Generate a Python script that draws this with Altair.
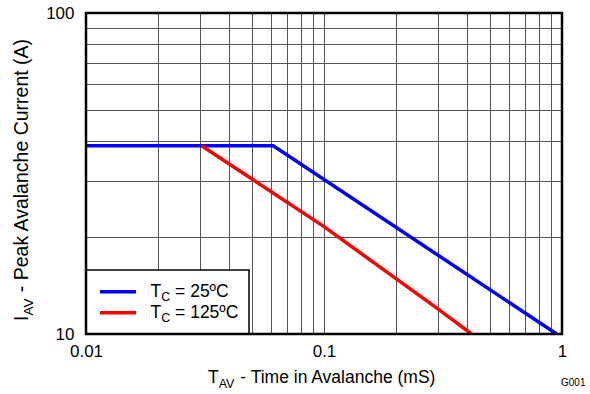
import altair as alt
import pandas as pd

# ---- data ----
blue_t = [0.01, 0.0612, 0.95]          # T_AV (ms), Tc = 25ºC
blue_i = [38.6, 38.6, 10.0]            # I_AV (A)
red_t = [0.0306, 0.1, 0.2, 0.3, 0.417]  # T_AV (ms), Tc = 125ºC
red_i = [38.6, 21.6, 14.9, 12.0, 10.0]  # I_AV (A)
series_names = ["25ºC", "125ºC"]
series_colors = ["#0000FF", "#FF0000"]
x_grid = [0.01, 0.02, 0.03, 0.04, 0.05, 0.06, 0.07, 0.08, 0.09,
          0.1, 0.2, 0.3, 0.4, 0.5, 0.6, 0.7, 0.8, 0.9, 1]
y_grid = [10, 20, 30, 40, 50, 60, 70, 80, 90, 100]
x_labels = ["0.01", "0.1", "1"]
y_labels = ["10", "100"]

FONT = "Liberation Sans"
SP = 0.278  # width of a space, in em
W, H = 476, 321

df_blue = pd.DataFrame({"t": blue_t, "i": blue_i})
df_red = pd.DataFrame({"t": red_t, "i": red_i})
one = pd.DataFrame({"k": [0]})

xscale = alt.Scale(type="log", domain=[0.01, 1], nice=False)
yscale = alt.Scale(type="log", domain=[10, 100], nice=False)

xl = "[" + ",".join("'" + s + "'" for s in x_labels) + "]"
yl = "[" + ",".join("'" + s + "'" for s in y_labels) + "]"

xaxis = alt.Axis(values=x_grid, grid=True, gridColor="#555555", gridWidth=1,
                 ticks=False, domain=False, title=None, labelFont=FONT,
                 labelFontSize=17, labelColor="black", labelPadding=9,
                 labelFlush=False, labelOverlap=False,
                 labelExpr="indexof(" + xl + ", format(datum.value, '~g')) >= 0 ? format(datum.value, '~g') : ''")
yaxis = alt.Axis(values=y_grid, grid=True, gridColor="#555555", gridWidth=1,
                 ticks=False, domain=False, title=None, labelFont=FONT,
                 labelFontSize=17, labelColor="black", labelPadding=12,
                 labelFlush=False, labelOverlap=False,
                 labelExpr="indexof(" + yl + ", format(datum.value, '~g')) >= 0 ? format(datum.value, '~g') : ''")

blue = alt.Chart(df_blue).mark_line(color=series_colors[0], strokeWidth=3.5, clip=True).encode(
    x=alt.X("t:Q", scale=xscale, axis=xaxis),
    y=alt.Y("i:Q", scale=yscale, axis=yaxis),
)
red = alt.Chart(df_red).mark_line(color=series_colors[1], strokeWidth=3.5, clip=True).encode(
    x=alt.X("t:Q", scale=xscale, axis=xaxis),
    y=alt.Y("i:Q", scale=yscale, axis=yaxis),
)

layers = [blue, red]


def txt(s, x, y, size, angle=None):
    kw = dict(font=FONT, fontSize=size, align="left", baseline="alphabetic", color="black")
    if angle is not None:
        kw["angle"] = angle
    return alt.Chart(one).mark_text(**kw).encode(
        x=alt.value(x), y=alt.value(y), text=alt.value(s))


# ---- legend box ----
layers.append(alt.Chart(one).mark_rect(fill="white", stroke="black", strokeWidth=1.5).encode(
    x=alt.value(0), x2=alt.value(163), y=alt.value(257), y2=alt.value(321)))

row_base = [283.7, 305.3]
line_y = [278.7, 299.7]
for name, col, yb, ly in zip(series_names, series_colors, row_base, line_y):
    layers.append(alt.Chart(one).mark_rule(color=col, strokeWidth=3.5).encode(
        x=alt.value(14), x2=alt.value(50), y=alt.value(ly)))
    layers.append(txt("T", 64.5, yb, 17.5))
    layers.append(txt("C", 75.2, yb + 4, 12.5))
    layers.append(txt("= " + name, 84.2 + SP * 17.5, yb, 17.5))

# ---- x title with subscript ----
xt_x, xt_y = 122, 370.3
layers.append(txt("T", xt_x, xt_y, 17.5))
layers.append(txt("AV", xt_x + 10.7, xt_y + 4.5, 12.5))
layers.append(txt("- Time in Avalanche (mS)", xt_x + 10.7 + 16.7 + SP * 17.5, xt_y, 17.5))

# ---- y title with subscript (rotated) ----
yt_x, yt_y = -58.5, 308
layers.append(txt("I", yt_x, yt_y, 19.5, 270))
layers.append(txt("AV", yt_x + 5, yt_y - 5.4, 13.5, 270))
layers.append(txt("- Peak Avalanche Current (A)", yt_x, yt_y - 5.4 - 18 - SP * 19.5, 19.5, 270))

# ---- G001 tag ----
layers.append(txt("G001", 475, 373, 10))

# ---- frame ----
layers.append(alt.Chart(one).mark_rect(fillOpacity=0, stroke="black", strokeWidth=2.5).encode(
    x=alt.value(0), x2=alt.value(W), y=alt.value(0), y2=alt.value(H)))

chart = alt.layer(*layers).properties(
    width=W, height=H,
    autosize=alt.AutoSizeParams(type="none"),
    padding={"left": 86, "top": 13, "right": 28, "bottom": 60},
    background="white",
).configure_view(stroke=None)

chart.save("out.html", embed_options={"renderer": "svg", "actions": False})
